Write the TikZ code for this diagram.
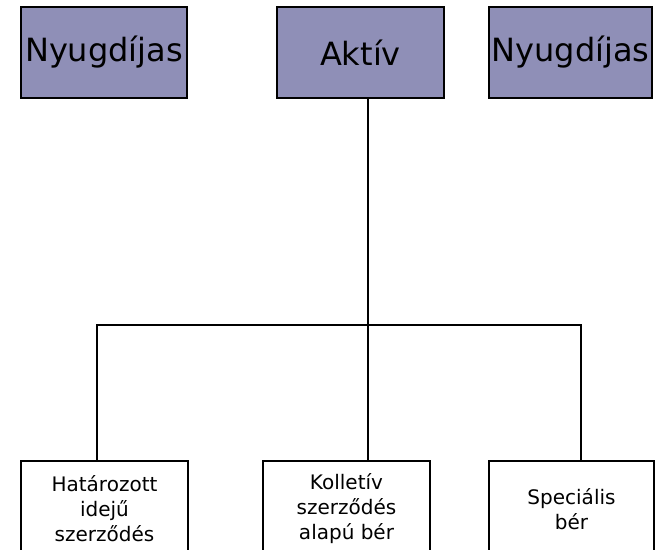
\documentclass[tikz,border=0pt]{standalone}
\usepackage{fontspec}
\setmainfont{DejaVu Sans}
\usetikzlibrary{shadows}
\definecolor{boxfill}{RGB}{143,143,183}
\begin{document}
\begin{tikzpicture}[x=1pt,y=-1pt,
  topbox/.style={draw=black, line width=2.4pt, fill=boxfill, minimum height=91pt,
    inner sep=0pt, font=\fontsize{32}{38}\selectfont,
    drop shadow={shadow xshift=0.8pt, shadow yshift=-1.4pt, fill=gray, opacity=0.6}},
  subbox/.style={draw=black, line width=1.9pt, fill=white, minimum height=96pt,
    inner sep=0pt, align=center, font=\fontsize{20}{25}\selectfont},
  link/.style={line width=2.6pt, line cap=rect}]
\useasboundingbox (0,0) rectangle (656,549);
\clip (0,0) rectangle (656,549);

% top row
\node[topbox, minimum width=166pt] (ny1) at (104,52.5) {Nyugdíjas};
\node[topbox, minimum width=167pt] (aktiv) at (360.5,52.5) {Aktív};
\node[topbox, minimum width=163pt] (ny2) at (570.5,52.5) {Nyugdíjas};

% bottom row (boxes run past the lower edge)
\node[subbox, minimum width=167pt] (b1) at (104.5,509) {Határozott\\idejű\\szerződés};
\node[subbox, minimum width=167pt] (b2) at (346.5,509) {Kolletív\\szerződés\\alapú bér};
\node[subbox, minimum width=165pt] (b3) at (571.5,509) {Speciális\\bér};

% branching connectors
\coordinate (hub) at (368,325);
\coordinate (hl) at (97,325);
\coordinate (hr) at (581,325);
\draw[link] (aktiv.south -| hub) -- (hub);
\draw[link] (hl) -- (hr);
\draw[link] (hl) -- (hl |- b1.north);
\draw[link] (hub) -- (hub |- b2.north);
\draw[link] (hr) -- (hr |- b3.north);
\end{tikzpicture}
\end{document}
